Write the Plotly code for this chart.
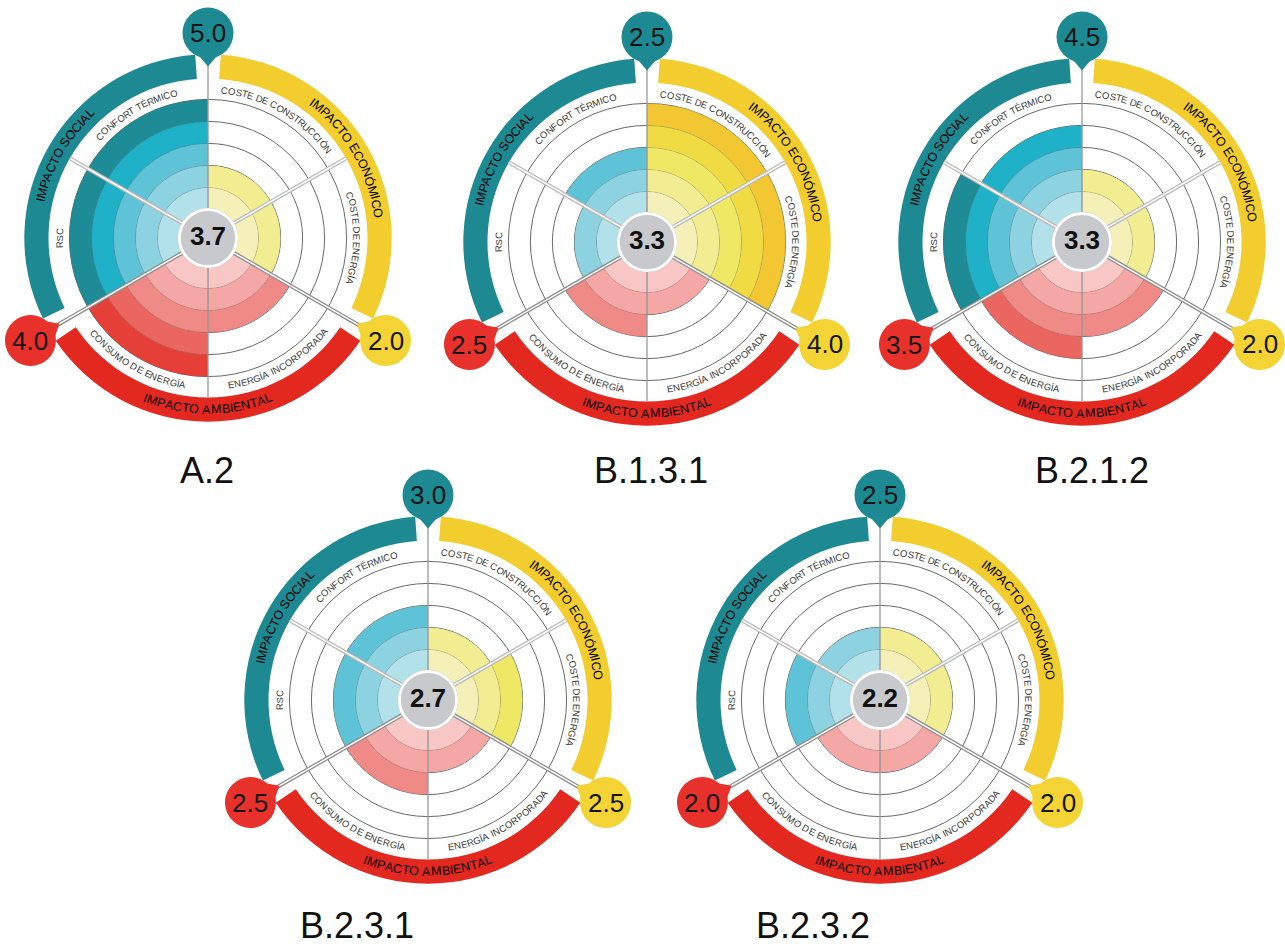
import math
import plotly.graph_objects as go

W, H = 1285, 947

# ---------------- data ----------------
escenarios = ["A.2", "B.1.3.1", "B.2.1.2", "B.2.3.1", "B.2.3.2"]

# sub-criterion scores (0-5), clockwise from the top of each wheel
coste_construccion = [2, 5, 2, 2, 2]
coste_energia = [2, 5, 2, 3, 2]
energia_incorporada = [3, 2, 3, 2, 2]
consumo_energia = [5, 3, 4, 3, 2]
rsc = [5, 2, 5, 3, 3]
confort_termico = [5, 3, 4, 3, 2]

# impact scores shown in the bubbles and overall score in the hub
impacto_economico = [2.0, 4.0, 2.0, 2.5, 2.0]
impacto_ambiental = [4.0, 2.5, 3.5, 2.5, 2.0]
impacto_social = [5.0, 2.5, 4.5, 3.0, 2.5]
puntuacion_global = [3.7, 3.3, 3.3, 2.7, 2.2]

criterios = ["COSTE DE CONSTRUCCIÓN", "COSTE DE ENERGÍA", "ENERGÍA INCORPORADA",
             "CONSUMO DE ENERGÍA", "RSC", "CONFORT TÉRMICO"]
impactos = {"eco": "IMPACTO ECONÓMICO", "amb": "IMPACTO AMBIENTAL", "soc": "IMPACTO SOCIAL"}

# ---------------- geometry / style ----------------
CENTERS = [(208, 238), (647, 242), (1082, 242), (428, 700), (880, 700)]
TITLE_POS = [(207, 470), (651, 470), (1092, 470), (357, 925), (813, 925)]

PPU = 22.0            # pixels per radial unit (one ring)
HALF = 200.0          # half size of each polar domain in px
RMAX = HALF / PPU
R_C = 1.3             # hub radius
N_LEV = 5
R_DATA = R_C + N_LEV
R_LABEL = R_DATA + 10 / PPU
ARC_IN = 7.25
ARC_OUT = 8.35
BUBBLE_PX = 205       # distance of the impact bubbles from the hub centre
BUBBLE_RAD = 25.5

PAL = {
    "eco": ["#f5f0b8", "#f2ed90", "#efe865", "#f0dc42", "#f2c731"],
    "amb": ["#f8c6c4", "#f4a7a4", "#f08a86", "#ec6660", "#e63f37"],
    "soc": ["#b2e1e9", "#8cd2e1", "#5fc3d8", "#1fb1c8", "#1e8c96"],
}
ARC_COL = {"eco": "#f3cc2e", "amb": "#e3281f", "soc": "#1d8a93"}
BUBBLE_COL = {"eco": "#f4d434", "amb": "#e8312a", "soc": "#1d8a93"}
ARC_MID = {"eco": 60, "amb": 180, "soc": 300}
BUBBLE_ANG = {"soc": 0, "eco": 120, "amb": 240}
SECTOR_CAT = ["eco", "eco", "amb", "amb", "soc", "soc"]
SECTOR_MID = [30, 90, 150, 210, 270, 330]

CHAR_W = {"A": .667, "B": .667, "C": .722, "D": .722, "E": .667, "F": .611, "G": .778,
          "H": .722, "I": .278, "J": .5, "K": .667, "L": .556, "M": .833, "N": .722,
          "O": .778, "P": .667, "Q": .778, "R": .722, "S": .667, "T": .611, "U": .722,
          "V": .667, "W": .944, "X": .667, "Y": .667, "Z": .611, " ": .278,
          "Ó": .778, "Í": .278, "É": .667}

FONT = "Liberation Sans, Arial, sans-serif"


def to_paper(xpx, ypx):
    return xpx / W, 1 - ypx / H


def polar_px(cx, cy, radius_px, ang_deg):
    a = math.radians(ang_deg)
    return cx + radius_px * math.sin(a), cy - radius_px * math.cos(a)


def arc_text(label, cx, cy, radius_px, mid_deg, size, color, inward):
    """Place a label letter by letter along a circle around (cx, cy)."""
    widths = [CHAR_W.get(ch, .667) * size for ch in label]
    total = sum(widths)
    sign = -1 if inward else 1
    start = math.radians(mid_deg) - sign * total / radius_px / 2
    cum = 0.0
    out = []
    for ch, w in zip(label, widths):
        ang = start + sign * (cum + w / 2) / radius_px
        cum += w
        if ch == " ":
            continue
        deg = math.degrees(ang)
        rot = deg - 180 if inward else deg
        rot = ((rot + 180) % 360) - 180
        x, y = to_paper(*polar_px(cx, cy, radius_px, deg))
        out.append(dict(x=x, y=y, xref="paper", yref="paper",
                        text=ch, showarrow=False, textangle=rot,
                        xanchor="center", yanchor="middle",
                        font=dict(family=FONT, size=size, color=color)))
    return out


fig = go.Figure()
annotations = []
shapes = []

for i, name in enumerate(escenarios):
    sp = "polar" if i == 0 else f"polar{i + 1}"
    cx, cy = CENTERS[i]
    valores = [coste_construccion[i], coste_energia[i], energia_incorporada[i],
               consumo_energia[i], rsc[i], confort_termico[i]]

    # stacked rings of each sector
    th, base, rr, col = [], [], [], []
    for s, v in enumerate(valores):
        cat = SECTOR_CAT[s]
        for k in range(1, int(v) + 1):
            th.append(SECTOR_MID[s])
            base.append(R_C + k - 1)
            rr.append(1)
            col.append(PAL[cat][k - 1])
    fig.add_trace(go.Barpolar(
        subplot=sp, theta=th, r=rr, base=base, width=[60] * len(th),
        marker=dict(color=col, line=dict(width=0.5, color="rgba(80,80,80,0.25)")),
        hoverinfo="skip", showlegend=False))

    # outer impact arcs
    cats = ["eco", "amb", "soc"]
    fig.add_trace(go.Barpolar(
        subplot=sp, theta=[ARC_MID[c] for c in cats], r=[ARC_OUT - ARC_IN] * 3,
        base=[ARC_IN] * 3, width=[112] * 3,
        marker=dict(color=[ARC_COL[c] for c in cats], line=dict(width=0)),
        hoverinfo="skip", showlegend=False))

    # sector separators
    def sep(angle, r_end, color, width, double):
        fig.add_trace(go.Scatterpolar(
            subplot=sp, r=[R_C, r_end], theta=[angle, angle], mode="lines",
            line=dict(color=color, width=width), hoverinfo="skip", showlegend=False))
        if double:
            fig.add_trace(go.Scatterpolar(
                subplot=sp, r=[R_C, r_end], theta=[angle, angle], mode="lines",
                line=dict(color="white", width=1.5), hoverinfo="skip", showlegend=False))

    sep(0, ARC_OUT, "#9a9a9a", 1.3, False)
    sep(180, ARC_IN, "#9a9a9a", 1.3, False)
    sep(60, R_DATA + 0.95, "#b8b8b8", 4, True)
    sep(300, R_DATA + 0.95, "#b8b8b8", 4, True)
    sep(120, ARC_OUT - 0.2, "#8c8c8c", 4, True)
    sep(240, ARC_OUT - 0.2, "#8c8c8c", 4, True)

    # hub
    fig.add_trace(go.Scatterpolar(
        subplot=sp, r=[0], theta=[0], mode="markers",
        marker=dict(size=2 * R_C * PPU + 3, color="#9c9c9c", line=dict(width=0)),
        hoverinfo="skip", showlegend=False))
    fig.add_trace(go.Scatterpolar(
        subplot=sp, r=[0], theta=[0], mode="markers+text",
        text=[f"{puntuacion_global[i]:.1f}"], textposition="middle center",
        textfont=dict(family=FONT, size=26, color="#111111", weight="bold"),
        marker=dict(size=2 * R_C * PPU, color="#c8c9cc", line=dict(width=3, color="white")),
        hoverinfo="skip", showlegend=False))

    fig.update_layout({sp: dict(
        domain=dict(x=[(cx - HALF) / W, (cx + HALF) / W],
                    y=[1 - (cy + HALF) / H, 1 - (cy - HALF) / H]),
        bgcolor="rgba(0,0,0,0)", barmode="overlay", hole=0,
        radialaxis=dict(range=[0, RMAX], tickvals=[R_C + k for k in range(1, N_LEV + 1)],
                        showticklabels=False, ticks="", showline=False,
                        gridcolor="#6a6a6a", gridwidth=0.8),
        angularaxis=dict(rotation=90, direction="clockwise", showgrid=False,
                         showticklabels=False, ticks="", showline=False),
    )})

    # impact bubbles (pin shaped) with their scores
    scores = {"soc": impacto_social[i], "eco": impacto_economico[i], "amb": impacto_ambiental[i]}
    for c in ["soc", "eco", "amb"]:
        ang = BUBBLE_ANG[c]
        bx, by = polar_px(cx, cy, BUBBLE_PX, ang)
        tip = to_paper(*polar_px(cx, cy, BUBBLE_PX - BUBBLE_RAD - 8, ang))
        half_ang = math.degrees(math.atan2(10, BUBBLE_PX - BUBBLE_RAD + 4))
        b1 = to_paper(*polar_px(cx, cy, BUBBLE_PX - BUBBLE_RAD + 4, ang - half_ang))
        b2 = to_paper(*polar_px(cx, cy, BUBBLE_PX - BUBBLE_RAD + 4, ang + half_ang))
        shapes.append(dict(type="path", xref="paper", yref="paper", layer="above",
                           path=f"M {tip[0]} {tip[1]} L {b1[0]} {b1[1]} L {b2[0]} {b2[1]} Z",
                           fillcolor=BUBBLE_COL[c], line=dict(width=0)))
        x0, y0 = to_paper(bx - BUBBLE_RAD, by + BUBBLE_RAD)
        x1, y1 = to_paper(bx + BUBBLE_RAD, by - BUBBLE_RAD)
        shapes.append(dict(type="circle", xref="paper", yref="paper", layer="above",
                           x0=x0, y0=y0, x1=x1, y1=y1,
                           fillcolor=BUBBLE_COL[c], line=dict(width=0)))
        px_, py_ = to_paper(bx, by)
        annotations.append(dict(x=px_, y=py_, xref="paper", yref="paper",
                                text=f"{scores[c]:.1f}", showarrow=False,
                                xanchor="center", yanchor="middle",
                                font=dict(family=FONT, size=26, color="#141414")))

    # curved criterion labels
    for s, label in enumerate(criterios):
        mid = SECTOR_MID[s]
        inward = 100 < mid < 260
        annotations += arc_text(label, cx, cy, R_LABEL * PPU, mid, 9.5, "#3a3a3a", inward)
    for c in ["eco", "amb", "soc"]:
        inward = c == "amb"
        annotations += arc_text(impactos[c], cx, cy, (ARC_IN + ARC_OUT) / 2 * PPU,
                                ARC_MID[c], 12.5, "#000000", inward)

    tx, ty = TITLE_POS[i]
    annotations.append(dict(x=tx / W, y=1 - ty / H, xref="paper", yref="paper", text=name,
                            showarrow=False, xanchor="center", yanchor="middle",
                            font=dict(family=FONT, size=36, color="#111111")))

fig.update_layout(width=W, height=H, margin=dict(l=0, r=0, t=0, b=0, pad=0),
                  paper_bgcolor="white", plot_bgcolor="white",
                  annotations=annotations, shapes=shapes, showlegend=False)

fig.write_html("out.html")
